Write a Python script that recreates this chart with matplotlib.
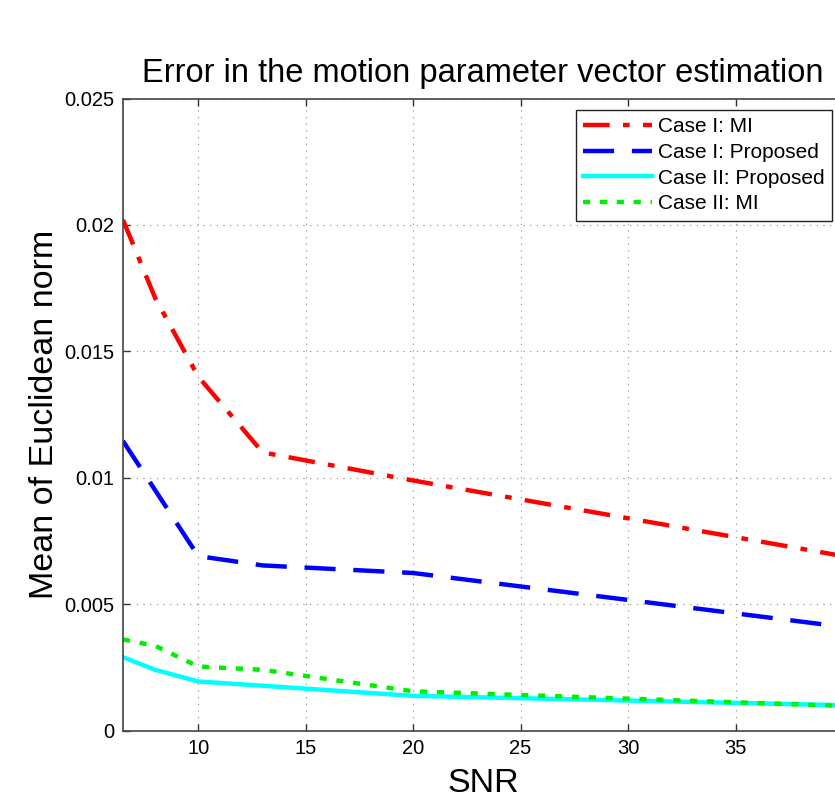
import matplotlib.pyplot as plt

# SNR values and mean error for each case
snr = [6.5, 8, 10, 13, 20, 40]
case1_mi = [0.0202, 0.0171, 0.0140, 0.0110, 0.00989, 0.0069]
case1_prop = [0.01145, None, 0.0069, 0.00653, 0.00623, 0.0041]
case2_prop = [0.0029, 0.0024, 0.00194, 0.00177, 0.00137, 0.00100]
case2_mi = [0.0036, 0.00335, 0.00253, 0.00240, 0.00155, 0.00097]

yticks = [0, 0.005, 0.01, 0.015, 0.02, 0.025]
ytick_labels = ['0', '0.005', '0.01', '0.015', '0.02', '0.025']
xticks = [10, 15, 20, 25, 30, 35]

plt.rcParams['font.family'] = ['Liberation Sans', 'DejaVu Sans']

fig = plt.figure(figsize=(8.35, 7.97), dpi=100)
ax = fig.add_axes([123 / 835, 1 - 730.5 / 797, 720 / 835, 632 / 797])

# blue line has no point at SNR 8
x_b = [x for x, v in zip(snr, case1_prop) if v is not None]
y_b = [v for v in case1_prop if v is not None]

ax.plot(snr, case1_mi, color='red', lw=3.2, dashes=(6, 3, 1.5, 3), label='Case I: MI')
ax.plot(x_b, y_b, color='blue', lw=3.2, dashes=(7, 4), label='Case I: Proposed')
ax.plot(snr, case2_prop, color='cyan', lw=3.2, label='Case II: Proposed')
ax.plot(snr, case2_mi, color='#00ee00', lw=3.2, dashes=(1.6, 2.2), label='Case II: MI')

ax.set_xlim(6.5, 40)
ax.set_ylim(0, 0.025)
ax.set_xticks(xticks)
ax.set_yticks(yticks)
ax.set_yticklabels(ytick_labels)
ax.tick_params(direction='in', length=5, width=1, labelsize=14.5, top=True, right=True,
               color='#333333', pad=6)
ax.grid(True, linestyle=(0, (1, 5)), color='#888888', lw=0.8)
for s in ax.spines.values():
    s.set_color('#444444')
    s.set_linewidth(1.2)

ax.set_title('Error in the motion parameter vector estimation', fontsize=23.5, pad=12)
ax.set_xlabel('SNR', fontsize=24.5, labelpad=7)
ax.set_ylabel('Mean of Euclidean norm', fontsize=24.5, labelpad=3)

leg = ax.legend(loc='upper right', bbox_to_anchor=(832 / 835, 1 - 110 / 797),
                bbox_transform=fig.transFigure, borderaxespad=0, fontsize=15,
                handlelength=3.3, handletextpad=0.3, labelspacing=0.32,
                fancybox=False, framealpha=1, edgecolor='#222222', borderpad=0.35)
leg.get_frame().set_linewidth(1.0)

fig.savefig('out.png', dpi=100)
